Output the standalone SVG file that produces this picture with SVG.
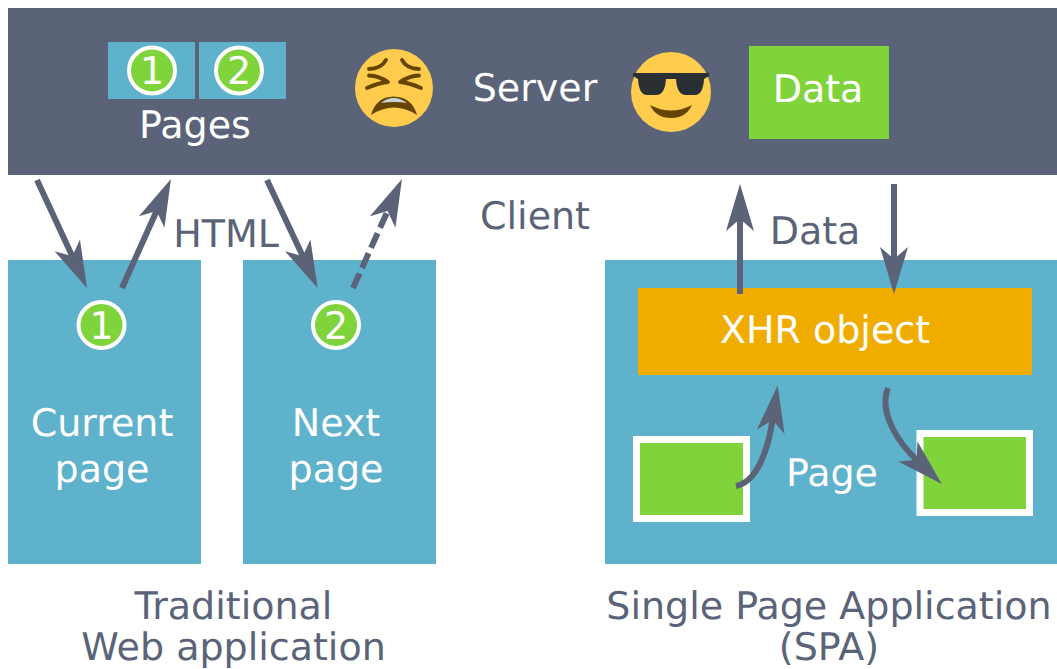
<svg xmlns="http://www.w3.org/2000/svg" width="1057" height="669" viewBox="0 0 1057 669">
<style>
text{font-family:"DejaVu Sans",sans-serif;font-size:38px;text-anchor:middle;text-rendering:geometricPrecision}
.w{fill:#fff}.d{fill:#5a6378}
.blue{fill:#5fb2cc}.green{fill:#7fd33b}
.badge{fill:#7fd33b;stroke:#fff;stroke-width:4}
.c{fill:none;stroke:#5a6378;stroke-width:6;marker-end:url(#head)}
.pg{fill:#7fd33b;stroke:#fff;stroke-width:7}
.brow{fill:none;stroke:#664500;stroke-width:3.800;stroke-linecap:round;stroke-linejoin:round}
</style>
<defs>
<marker id="head" markerUnits="userSpaceOnUse" markerWidth="48" markerHeight="30" viewBox="0 0 48 30" refX="12" refY="15" orient="auto"><path d="M47,15 L0,1 L12,15 L0,29 Z" fill="#5a6378"/></marker>
</defs>
<rect id="background" width="1057" height="669" fill="#fff"/>
<g id="server"><rect x="8" y="8" width="1049" height="167" class="d"/><text x="535" y="101" class="w">Server</text></g>
<g id="pages">
<rect x="108" y="42" width="87" height="57" class="blue"/><rect x="199" y="42" width="87" height="57" class="blue"/>
<circle cx="152" cy="70.500" r="23" class="badge"/><circle cx="239" cy="70.500" r="23" class="badge"/>
<text x="152" y="84" class="w">1</text><text x="239" y="84" class="w">2</text>
<text x="195" y="138" class="w">Pages</text>
</g>
<g id="emoji-tired">
<circle cx="394" cy="88" r="39" fill="#ffcc4d"/>
<path class="brow" d="M369,69 Q381,69 386,60M419,69 Q407,69 402,60M369,75.500 Q379,76 388,82 Q378,83 367,88M419,75.500 Q409,76 400,82 Q410,83 421,88"/>
<path d="M371,115 Q376,97 393.500,96.500 Q412,97 417,115 Q394,100 371,115Z" fill="#664500"/>
<path d="M381,103 Q393.500,93 407,103 Q394,101 381,103Z" fill="#c6d2d8"/>
</g>
<g id="emoji-cool">
<circle cx="671" cy="92" r="40" fill="#ffcc4d"/>
<path d="M633,73 L709,73 L709,76 L704,79 Q703,95 695,95 L686,95 Q677,95 676,79 L666,79 Q665,95 656,95 L647,95 Q639,95 638,79 L633,76Z" fill="#292f33"/>
<path d="M650,105 Q671,116 692,105 Q686,118 671,118 Q656,118 650,105Z" fill="#664500"/>
</g>
<g id="data-top"><rect x="749" y="46" width="140" height="93" class="green"/><text x="818" y="102" class="w">Data</text></g>
<g id="current-page"><rect x="8" y="260" width="193" height="304" class="blue"/>
<circle cx="101.500" cy="325" r="23" class="badge"/><text x="101.500" y="339" class="w">1</text>
<text x="102" y="436" class="w">Current</text><text x="102" y="482" class="w">page</text></g>
<g id="next-page"><rect x="243" y="260" width="193" height="304" class="blue"/>
<circle cx="336" cy="325" r="23" class="badge"/><text x="336" y="339" class="w">2</text>
<text x="336" y="436" class="w">Next</text><text x="336" y="482" class="w">page</text></g>
<g id="spa"><rect x="605" y="260" width="452" height="304" class="blue"/>
<text x="832" y="486" class="w">Page</text></g>
<g id="xhr"><rect x="638" y="288" width="394" height="87" fill="#f0ad00"/><text x="825" y="343" class="w">XHR object</text></g>
<g id="page-box-1"><rect x="636.500" y="439.500" width="110" height="79" class="pg"/></g>
<g id="page-box-2"><rect x="920" y="433.500" width="109.500" height="79" class="pg"/></g>
<g id="connectors">
<path class="c" d="M37,180 L72.300,256.200"/>
<path class="c" d="M122,288 L156.600,211"/>
<path class="c" d="M267,180 L302.800,256.200"/>
<path class="c" d="M353,288 L387.600,211" stroke-dasharray="16 6"/>
<path class="c" d="M740,294 L740,219"/>
<path class="c" d="M894,184 L894,259"/>
<path class="c" d="M736,486 C757,482 768,450 772.500,420"/>
<path class="c" d="M888,388 C878,414 900,444 916.500,459.800"/>
</g>
<g id="labels" class="d">
<text x="535" y="229">Client</text>
<text x="226" y="247">HTML</text>
<text x="815" y="244">Data</text>
<text x="233.500" y="619">Traditional</text>
<text x="233.500" y="660">Web application</text>
<text x="829" y="619">Single Page Application</text>
<text x="829" y="660">(SPA)</text>
</g>
</svg>
